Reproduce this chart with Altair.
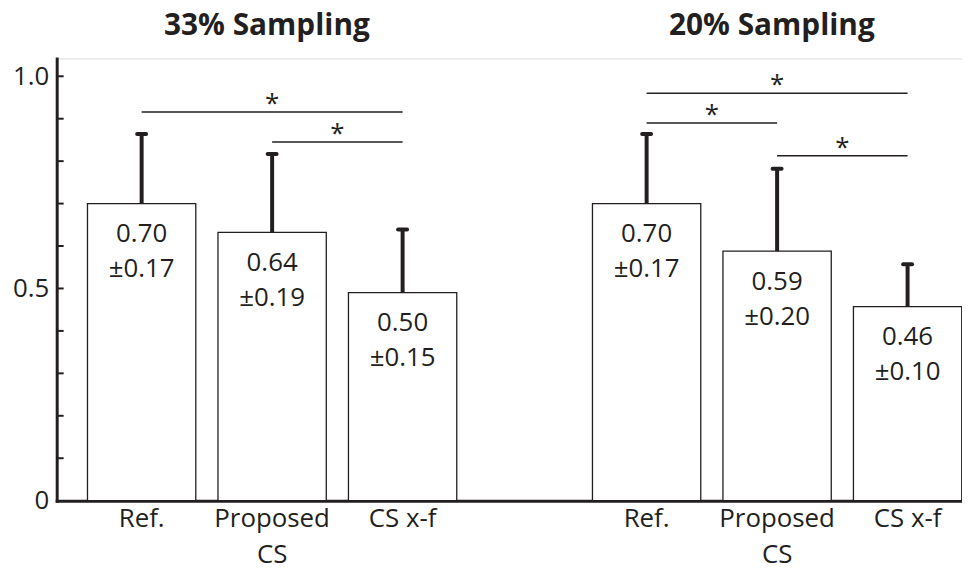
import altair as alt
import pandas as pd

# ---- data ----
groups = ["33% Sampling", "20% Sampling"]
categories = ["Ref.", "Proposed\nCS", "CS x-f"]
means_33 = [0.700, 0.632, 0.490]
errs_33 = [0.164, 0.185, 0.149]
means_20 = [0.700, 0.588, 0.457]
errs_20 = [0.164, 0.194, 0.100]
mean_labels_33 = ["0.70", "0.64", "0.50"]
sd_labels_33 = ["±0.17", "±0.19", "±0.15"]
mean_labels_20 = ["0.70", "0.59", "0.46"]
sd_labels_20 = ["±0.17", "±0.20", "±0.10"]
group_offsets = [0.0, 3.87]

# significance brackets: group, from-category, to-category, level
sig_group = [0, 0, 1, 1, 1]
sig_from = [0, 1, 0, 0, 1]
sig_to = [2, 2, 2, 1, 2]
sig_level = [0.916, 0.845, 0.960, 0.890, 0.813]

y_minor_ticks = [0.1, 0.2, 0.3, 0.4, 0.5, 0.6, 0.7, 0.8, 0.9, 1.0]

INK = "#231f20"
FONT = "Open Sans"
FS = 26
HALF = 0.415

rows = []
for gi, (means, errs, ml, sl) in enumerate([
    (means_33, errs_33, mean_labels_33, sd_labels_33),
    (means_20, errs_20, mean_labels_20, sd_labels_20),
]):
    for ci, cat in enumerate(categories):
        pos = group_offsets[gi] + ci + 1
        rows.append(dict(group=groups[gi], cat=cat, pos=pos,
                         x0=pos - HALF, x1=pos + HALF,
                         mean=means[ci], top=means[ci] + errs[ci],
                         mlab=ml[ci], slab=sl[ci]))
df = pd.DataFrame(rows)

sig_rows = []
for g, a, b, lv in zip(sig_group, sig_from, sig_to, sig_level):
    pa = group_offsets[g] + a + 1
    pb = group_offsets[g] + b + 1
    sig_rows.append(dict(xa=pa, xb=pb, mid=(pa + pb) / 2, level=lv, star="*"))
sig = pd.DataFrame(sig_rows)

titles = pd.DataFrame(dict(title=groups,
                           pos=[group_offsets[0] + 1.96, group_offsets[1] + 1.96]))
ticks = pd.DataFrame(dict(v=y_minor_ticks))

xscale = alt.Scale(domain=[0.349, 7.287], nice=False, zero=False, padding=0)
yscale = alt.Scale(domain=[0, 1.042], nice=False, padding=0)

x_axis = alt.Axis(title=None, labels=False, ticks=False, grid=False,
                  domainWidth=3, domainColor=INK, domainCap="square")
y_axis = alt.Axis(title=None, values=[0, 0.5, 1.0], ticks=False, grid=False,
                  labelExpr="datum.value == 0 ? '0' : format(datum.value, '.1f')",
                  labelFont=FONT, labelFontSize=FS, labelColor=INK,
                  labelPadding=8, domainWidth=3, domainColor=INK,
                  domainCap="square")

base = alt.Chart(df)

bars = base.mark_bar(fill="white", stroke=INK, strokeWidth=1.3).encode(
    x=alt.X("x0:Q", scale=xscale, axis=x_axis),
    x2="x1:Q",
    y=alt.Y("mean:Q", scale=yscale, axis=y_axis),
    y2=alt.datum(0),
)

err = base.mark_rule(color=INK, strokeWidth=4).encode(
    x="pos:Q", y="mean:Q", y2="top:Q")

cap = base.mark_rule(color=INK, strokeWidth=4, strokeCap="round",
                     xOffset=-4.5, x2Offset=4.5).encode(
    x="pos:Q", x2="pos:Q", y="top:Q")

lab1 = base.mark_text(font=FONT, fontSize=FS, color=INK, baseline="middle",
                      dy=31).encode(x="pos:Q", y="mean:Q", text="mlab:N")
lab2 = base.mark_text(font=FONT, fontSize=FS, color=INK, baseline="middle",
                      dy=66).encode(x="pos:Q", y="mean:Q", text="slab:N")

catlab = base.mark_text(font=FONT, fontSize=FS, color=INK, baseline="middle",
                        lineBreak="\n", lineHeight=36).encode(
    x="pos:Q", y=alt.value(464), text="cat:N")

sig_lines = alt.Chart(sig).mark_rule(color=INK, strokeWidth=1.5).encode(
    x="xa:Q", x2="xb:Q", y="level:Q")
sig_stars = alt.Chart(sig).mark_text(font=FONT, fontSize=FS, color=INK,
                                     baseline="alphabetic", dy=0).encode(
    x="mid:Q", y="level:Q", text="star:N")

title_marks = alt.Chart(titles).mark_text(font=FONT, fontSize=30,
                                          fontWeight="bold", color=INK,
                                          baseline="alphabetic").encode(
    x="pos:Q", y=alt.value(-24), text="title:N")

minor = alt.Chart(ticks).mark_rule(color=INK, strokeWidth=2).encode(
    y="v:Q", x=alt.value(0), x2=alt.value(7))

chart = alt.layer(
    bars, err, cap, lab1, lab2, catlab, sig_lines, sig_stars,
    title_marks, minor
).properties(
    width=911, height=445,
    autosize=alt.AutoSizeParams(type="none"),
    padding={"left": 49, "top": 49, "right": 0, "bottom": 66},
).configure_view(stroke=None).configure(background="white")

chart.save("out.html", embed_options={"renderer": "svg", "actions": False})
